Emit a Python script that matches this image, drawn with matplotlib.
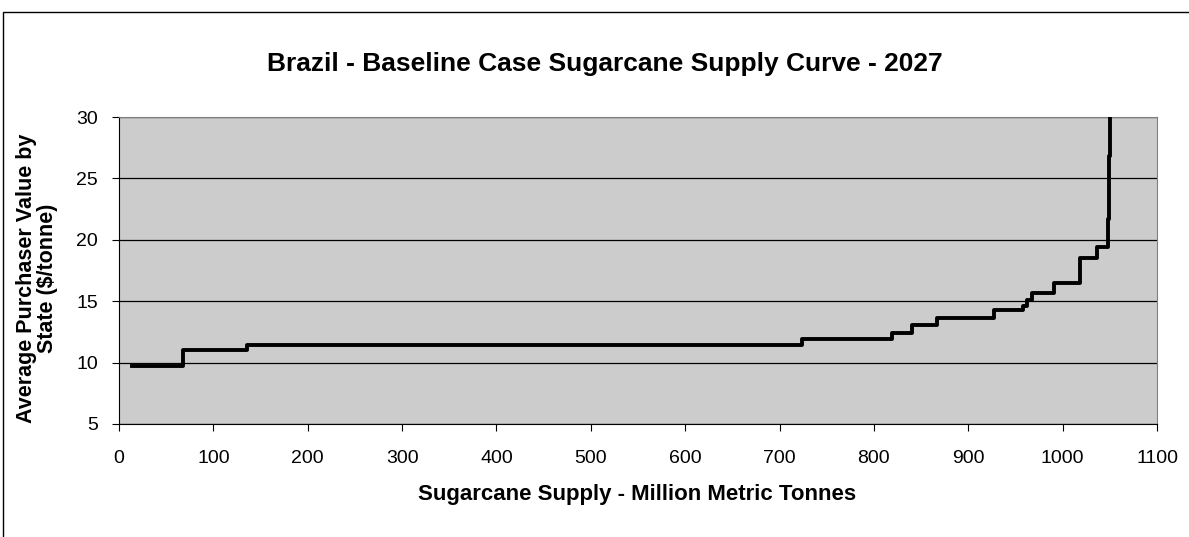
import matplotlib.pyplot as plt
from matplotlib.patches import Rectangle

# Step curve: each price level starts at the given cumulative supply.
supply = [14, 68, 136, 724, 819, 840, 867, 927, 958, 962, 968, 991, 1018,
          1036, 1048, 1049, 1050, 1052]
price = [9.7, 11.0, 11.45, 11.95, 12.45, 13.1, 13.6, 14.25, 14.6, 15.1, 15.7,
         16.5, 18.5, 19.4, 21.7, 26.8, 32.0, 32.0]
xticks = list(range(0, 1101, 100))
yticks = [5, 10, 15, 20, 25, 30]

plt.rcParams['font.family'] = ['Liberation Sans', 'DejaVu Sans']

W, H = 1189, 537
fig = plt.figure(figsize=(W / 100, H / 100), dpi=100)
ax = fig.add_axes([119 / W, 1 - 424 / H, (1157 - 119) / W, (424 - 117) / H])

# Outer chart border (only top and left are visible).
fig.add_artist(Rectangle((3 / W, -0.1), 2, 1 - 12 / H + 0.1,
                         transform=fig.transFigure, fill=False,
                         edgecolor='black', linewidth=1))

ax.set_facecolor('#cccccc')
ax.plot(supply, price, drawstyle='steps-post', color='black', linewidth=2.8,
        zorder=3)
ax.set_xlim(0, 1100)
ax.set_ylim(5, 30)
ax.set_xticks(xticks)
ax.set_yticks(yticks)
ax.yaxis.grid(True, color='black', linewidth=0.9)
ax.set_axisbelow(True)
ax.tick_params(labelsize=14, length=5, width=0.8, direction='out')
ax.tick_params(axis='x', pad=14)
ax.tick_params(axis='y', pad=10)

for side in ['top', 'right']:
    ax.spines[side].set_color('#808080')
for side in ['left', 'bottom']:
    ax.spines[side].set_color('black')

fig.text(637 / W, 1 - 500 / H, 'Sugarcane Supply - Million Metric Tonnes',
         ha='center', va='baseline', fontsize=16, fontweight='bold')
fig.text(37 / W, 1 - 278 / H, 'Average Purchaser Value by\nState ($/tonne)',
         ha='center', va='center', rotation=90, multialignment='center',
         linespacing=1.05, fontsize=15.5, fontweight='bold')
fig.text(605 / W, 1 - 71 / H, 'Brazil - Baseline Case Sugarcane Supply Curve - 2027',
         ha='center', va='baseline', fontsize=19, fontweight='bold')

fig.savefig('out.png', dpi=100)
